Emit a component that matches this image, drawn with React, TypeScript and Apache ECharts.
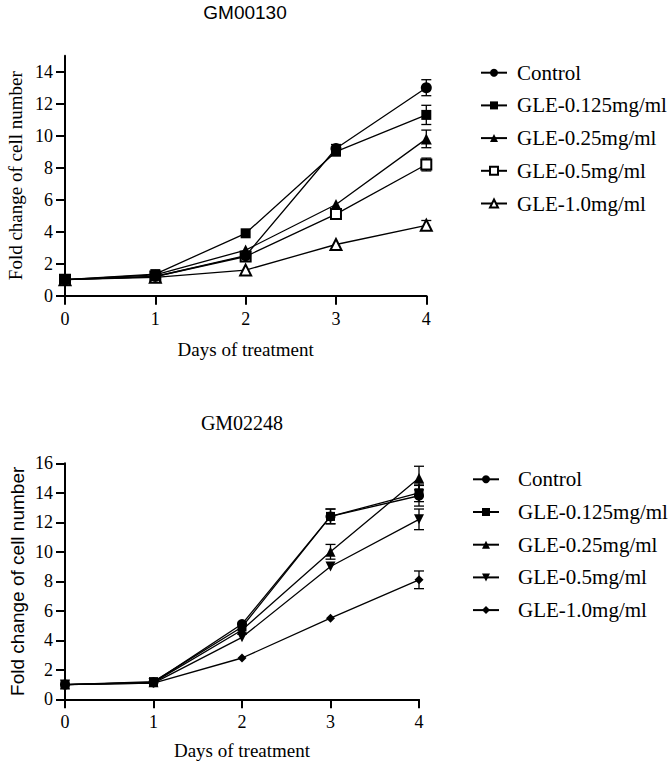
import React, { useEffect, useRef } from "react";
import * as echarts from "echarts";

const days = [0, 1, 2, 3, 4];
const seriesNames = ["Control", "GLE-0.125mg/ml", "GLE-0.25mg/ml", "GLE-0.5mg/ml", "GLE-1.0mg/ml"];

// Top chart (GM00130)
const topTitle = "GM00130";
const topControl = [1.0, 1.2, 2.5, 9.2, 13.0];
const topControlErr = [0, 0, 0, 0.25, 0.5];
const top0125 = [1.0, 1.35, 3.9, 9.0, 11.3];
const top0125Err = [0, 0, 0, 0.2, 0.6];
const top025 = [1.0, 1.3, 2.85, 5.7, 9.8];
const top025Err = [0, 0, 0, 0, 0.55];
const top05 = [1.0, 1.2, 2.45, 5.1, 8.2];
const top05Err = [0, 0, 0, 0, 0.4];
const top10 = [1.0, 1.15, 1.6, 3.2, 4.4];
const top10Err = [0, 0, 0, 0, 0.3];
const topYTicks = [0, 2, 4, 6, 8, 10, 12, 14];

// Bottom chart (GM02248)
const botTitle = "GM02248";
const botControl = [1.0, 1.15, 5.1, 12.4, 13.8];
const botControlErr = [0, 0, 0, 0.5, 0.7];
const bot0125 = [1.0, 1.2, 4.9, 12.4, 14.0];
const bot0125Err = [0, 0, 0, 0.5, 0.6];
const bot025 = [1.0, 1.15, 4.7, 10.0, 15.0];
const bot025Err = [0, 0, 0, 0.5, 0.8];
const bot05 = [1.0, 1.1, 4.2, 9.0, 12.2];
const bot05Err = [0, 0, 0, 0, 0.7];
const bot10 = [1.0, 1.1, 2.8, 5.5, 8.1];
const bot10Err = [0, 0, 0, 0, 0.6];
const botYTicks = [0, 2, 4, 6, 8, 10, 12, 14, 16];

const xTitle = "Days of treatment";
const yTitle = "Fold change of cell number";

const SERIF = "Liberation Serif";
const SANS = "Liberation Sans";
const INV_TRI = "path://M0,0 L10,0 L5,9 Z";

type Sym = { symbol: string; size: number; open: boolean; z: number };

function buildOption(cfg: any) {
  const series: any[] = [];
  cfg.values.forEach((vals: number[], i: number) => {
    const errs: number[] = cfg.errors[i];
    const s: Sym = cfg.symbols[i];
    series.push({
      type: "custom",
      name: seriesNames[i] + "-err",
      z: 1,
      silent: true,
      data: days.map((d, k) => [d, vals[k], errs[k]]),
      renderItem: (params: any, api: any) => {
        const x = api.value(0);
        const y = api.value(1);
        const e = api.value(2);
        if (!e) return { type: "group", children: [] };
        const t = api.coord([x, y + e]);
        const b = api.coord([x, y - e]);
        const w = 5;
        const st = { stroke: "#000", lineWidth: 1.3 };
        return {
          type: "group",
          children: [
            { type: "line", shape: { x1: t[0], y1: t[1], x2: b[0], y2: b[1] }, style: st },
            { type: "line", shape: { x1: t[0] - w, y1: t[1], x2: t[0] + w, y2: t[1] }, style: st },
            { type: "line", shape: { x1: b[0] - w, y1: b[1], x2: b[0] + w, y2: b[1] }, style: st },
          ],
        };
      },
    });
    series.push({
      type: "line",
      name: seriesNames[i],
      z: s.z,
      data: days.map((d, k) => [d, vals[k]]),
      symbol: s.symbol,
      symbolSize: s.size,
      showAllSymbol: true,
      lineStyle: { color: "#000", width: 1.3 },
      itemStyle: s.open
        ? { color: "#fff", borderColor: "#000", borderWidth: 2 }
        : { color: "#000", borderColor: "#000", borderWidth: 0 },
      emphasis: { disabled: true },
    });
  });

  const axisLine = { show: true, onZero: false, lineStyle: { color: "#000", width: 2 } };
  const axisTick = { show: true, length: 9, lineStyle: { color: "#000", width: 2 } };

  return {
    animation: false,
    backgroundColor: "#fff",
    grid: {
      left: 65,
      right: cfg.gridRight,
      top: cfg.gridTop,
      bottom: cfg.gridBottom,
      containLabel: false,
      outerBoundsMode: "none",
    },
    legend: {
      orient: "vertical",
      left: cfg.legendLeft,
      top: cfg.legendTop,
      padding: 0,
      itemWidth: 26,
      itemHeight: 10,
      itemGap: 10.7,
      selectedMode: false,
      data: seriesNames,
      textStyle: {
        fontFamily: SERIF,
        fontSize: 21,
        lineHeight: 22,
        color: "#000",
        padding: [0, 0, 0, cfg.legendTextPad],
      },
    },
    graphic: [
      {
        type: "text",
        x: cfg.titleX,
        y: cfg.titleY,
        style: {
          text: cfg.title,
          fontFamily: cfg.titleFont,
          fontSize: cfg.titleSize,
          fill: "#000",
          textAlign: "center",
          textVerticalAlign: "middle",
        },
      },
    ],
    xAxis: {
      type: "value",
      min: 0,
      max: 4,
      interval: 1,
      name: xTitle,
      nameLocation: "middle",
      nameGap: cfg.xNameGap,
      nameMoveOverlap: false,
      nameTextStyle: { fontFamily: SERIF, fontSize: 19, color: "#000" },
      axisLine,
      axisTick,
      splitLine: { show: false },
      axisLabel: { fontFamily: SERIF, fontSize: 18, color: "#000", margin: 14 },
    },
    yAxis: {
      type: "value",
      min: 0,
      max: cfg.yMax,
      interval: 2,
      name: yTitle,
      nameLocation: "middle",
      nameGap: cfg.yNameGap,
      nameMoveOverlap: false,
      nameTextStyle: { fontFamily: cfg.yNameFont, fontSize: 19, color: "#000" },
      axisLine,
      axisTick: { ...axisTick, customValues: cfg.yTicks },
      splitLine: { show: false },
      axisLabel: { fontFamily: SERIF, fontSize: 18, color: "#000", margin: 12, customValues: cfg.yTicks },
    },
    series,
  };
}

const topCfg = {
  title: topTitle,
  titleX: 245,
  titleY: 12,
  titleFont: SANS,
  titleSize: 19,
  values: [topControl, top0125, top025, top05, top10],
  errors: [topControlErr, top0125Err, top025Err, top05Err, top10Err],
  symbols: [
    { symbol: "circle", size: 11, open: false, z: 6 },
    { symbol: "rect", size: 10, open: false, z: 7 },
    { symbol: "triangle", size: 11, open: false, z: 3 },
    { symbol: "rect", size: 10, open: true, z: 4 },
    { symbol: "triangle", size: 11, open: true, z: 5 },
  ],
  yMax: 15,
  yTicks: topYTicks,
  gridRight: 244.7,
  gridTop: 55.7,
  gridBottom: 89.3,
  legendLeft: 480,
  legendTop: 61.7,
  legendTextPad: 5,
  xNameGap: 44.5,
  yNameGap: 40.5,
  yNameFont: SERIF,
};

const botCfg = {
  title: botTitle,
  titleX: 242,
  titleY: 37.7,
  titleFont: SERIF,
  titleSize: 20,
  values: [botControl, bot0125, bot025, bot05, bot10],
  errors: [botControlErr, bot0125Err, bot025Err, bot05Err, bot10Err],
  symbols: [
    { symbol: "circle", size: 10, open: false, z: 6 },
    { symbol: "rect", size: 9, open: false, z: 7 },
    { symbol: "triangle", size: 10, open: false, z: 4 },
    { symbol: INV_TRI, size: 10, open: false, z: 3 },
    { symbol: "diamond", size: 9, open: false, z: 2 },
  ],
  yMax: 16,
  yTicks: botYTicks,
  gridRight: 252,
  gridTop: 78.3,
  gridBottom: 69.7,
  legendLeft: 472,
  legendTop: 83.3,
  legendTextPad: 14,
  xNameGap: 41.5,
  yNameGap: 38.5,
  yNameFont: SANS,
};

function Chart({ cfg, height }: { cfg: any; height: number }) {
  const ref = useRef<HTMLDivElement>(null);
  useEffect(() => {
    if (!ref.current) return;
    const chart = echarts.init(ref.current, undefined, { renderer: "svg" });
    chart.setOption(buildOption(cfg));
    return () => chart.dispose();
  }, [cfg]);
  return <div ref={ref} style={{ width: 671, height }} />;
}

export default function App() {
  return (
    <div style={{ position: "absolute", left: 0, top: 0, width: 671, height: 769, background: "#fff" }}>
      <Chart cfg={topCfg} height={385} />
      <Chart cfg={botCfg} height={384} />
    </div>
  );
}
